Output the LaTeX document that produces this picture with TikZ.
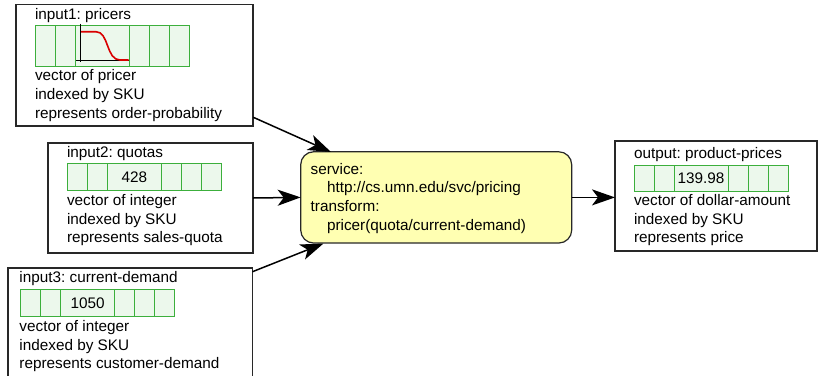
\documentclass[tikz,border=0pt]{standalone}
\usepackage{fontspec}
\setmainfont{Liberation Sans}
\usetikzlibrary{arrows.meta,calc}
\definecolor{cellfill}{RGB}{236,248,236}
\definecolor{celldraw}{RGB}{60,175,60}
\definecolor{svcfill}{RGB}{255,255,178}
\definecolor{boxdraw}{RGB}{40,40,40}
\frenchspacing
\newcommand{\cellrow}[5]{%
  % #1 name, #2 left x, #3 top y, #4 height, #5 content
  \node[cell, minimum width=20, minimum height=#4, anchor=north west] (#1-1) at (#2,#3) {};
  \node[cell, minimum width=20, minimum height=#4, anchor=north west] (#1-2) at (#1-1.north east) {};
  \node[cell, minimum width=54, minimum height=#4, anchor=north west] (#1-3) at (#1-2.north east) {#5};
  \node[cell, minimum width=20, minimum height=#4, anchor=north west] (#1-4) at (#1-3.north east) {};
  \node[cell, minimum width=20, minimum height=#4, anchor=north west] (#1-5) at (#1-4.north east) {};
  \node[cell, minimum width=20, minimum height=#4, anchor=north west] (#1-6) at (#1-5.north east) {};
}
\begin{document}
\begin{tikzpicture}[x=1pt,y=-1pt,
  every node/.style={font=\fontsize{15.3}{19}\selectfont},
  box/.style={draw=boxdraw, line width=1.2pt, inner sep=0, outer sep=0},
  cell/.style={draw=celldraw, fill=cellfill, line width=1pt, inner sep=0, outer sep=0},
  txt/.style={anchor=base west, inner sep=0, outer sep=0},
  svcbox/.style={draw=boxdraw, fill=svcfill, line width=1.2pt, rounded corners=13pt, inner sep=0, outer sep=0},
  conn/.style={line width=1.5pt, -{Stealth[length=23pt,width=16pt,inset=6pt]}}
]
\useasboundingbox (0,0) rectangle (818,375);
\begin{scope}
\clip (0,0) rectangle (818,375);
% boxes
\node[box, minimum width=237, minimum height=121.7] (in1) at (134.5,65.2) {};
\node[box, minimum width=205, minimum height=110] (in2) at (150.5,198) {};
\node[box, minimum width=244.5, minimum height=117, anchor=north west] (in3) at (8,268) {};
\node[box, minimum width=202, minimum height=110] (out) at (716,196) {};
\node[svcbox, minimum width=271, minimum height=91.3] (svc) at (436.2,197.4) {};
\end{scope}

% input1
\node[txt] (t1) at (35,19) {input1: pricers};
\cellrow{r1}{35.7}{25}{41}{}
\draw[line width=1pt] (80.7,23.5) coordinate (ax1) -- (80.7,62) coordinate (ax2);
\draw[line width=1pt] (76,60.7) coordinate (ax3) -- (129,60.7) coordinate (ax4);
\draw[red!85!black, line width=1.6pt] (81,31.7) coordinate (cv1) -- (96,31.7) .. controls (109,31.7) and (106,60) .. (120,60) -- (128.5,60) coordinate (cv2);
\node[txt] (t1a) at (35,80) {vector of pricer};
\node[txt] (t1b) at (35,99) {indexed by SKU};
\node[txt] (t1c) at (35,118) {represents order-probability};

% input2
\node[txt] (t2) at (67,157.3) {input2: quotas};
\cellrow{r2}{67.3}{163.3}{27.4}{428}
\node[txt] (t2a) at (67,205) {vector of integer};
\node[txt] (t2b) at (67,224) {indexed by SKU};
\node[txt] (t2c) at (67,242.5) {represents sales-quota};

% input3
\node[txt] (t3) at (19.5,282) {input3: current-demand};
\cellrow{r3}{20.7}{289.7}{26.6}{1050}
\node[txt] (t3a) at (19.5,331) {vector of integer};
\node[txt] (t3b) at (19.5,350) {indexed by SKU};
\node[txt] (t3c) at (19.5,368.5) {represents customer-demand};

% output
\node[txt] (t4) at (634,158.3) {output: product-prices};
\cellrow{r4}{634}{165}{26.7}{139.98}
\node[txt] (t4a) at (634,205.7) {vector of dollar-amount};
\node[txt] (t4b) at (634,224) {indexed by SKU};
\node[txt] (t4c) at (634,242.5) {represents price};

% service
\node[txt] (s1) at (310.7,174) {service:};
\node[txt] (s2) at (327,192.7) {http://cs.umn.edu/svc/pricing};
\node[txt] (s3) at (310.7,211.7) {transform:};
\node[txt] (s4) at (327,230.7) {pricer(quota/current-demand)};

% connectors
\coordinate (a1s) at (253.3,117.3);
\coordinate (a1e) at (331,152);
\coordinate (a3s) at (252.5,271.7);
\coordinate (a3e) at (323.5,243.5);
\draw[conn] (a1s) -- (a1e);
\draw[conn] (in2.east) -- (svc.west);
\draw[conn] (a3s) -- (a3e);
\draw[conn] (svc.east) -- (svc.east -| out.west);
\end{tikzpicture}
\end{document}
